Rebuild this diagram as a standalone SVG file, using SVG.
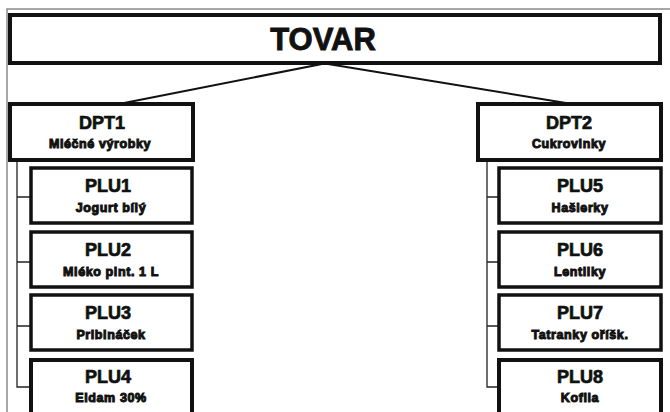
<svg xmlns="http://www.w3.org/2000/svg" width="670" height="412" viewBox="0 0 670 412">
<style>
.frame{fill:none;stroke:#8a8a8a;stroke-width:1.5}
.big{fill:#fff;stroke:#111;stroke-width:4}
.dpt{fill:#fff;stroke:#111;stroke-width:4}
.plu{fill:#fff;stroke:#111;stroke-width:3.5}
.open{fill:none;stroke:#111;stroke-width:4}
.conn{fill:none;stroke:#111;stroke-width:2}
.tree{fill:none;stroke:#222;stroke-width:1.3}
text{font-family:"Liberation Sans",Arial,sans-serif;font-weight:bold;fill:#111;text-anchor:middle;stroke:#111}
.t0{font-size:31px;stroke-width:0.9}
.t1{font-size:18px;stroke-width:0.7}
.t2{font-size:12.5px;stroke-width:1;letter-spacing:0.6px}
</style>
<rect width="670" height="412" fill="#fff"/>
<path class="frame" d="M7,412 V9 H670"/>
<g id="tovar">
<rect class="big" x="10" y="15" width="650" height="48"/>
<text class="t0" x="323" y="50">TOVAR</text>
</g>
<g id="connectors">
<path class="conn" d="M322,64 L124,103"/>
<path class="conn" d="M328,64 L566,103"/>
<path class="tree" d="M17,161 V387 H30 M17,197 H30 M17,262 H30 M17,326 H30"/>
<path class="tree" d="M487,161 V387 H498 M487,197 H498 M487,262 H498 M487,326 H498"/>
</g>
<g id="dpt1">
<rect class="dpt" x="10" y="104" width="183" height="56"/>
<text class="t1" x="102" y="129">DPT1</text>
<text class="t2" x="100" y="148">Mléčné výrobky</text>
</g>
<g id="plu1">
<rect class="plu" x="31" y="168" width="161" height="55"/>
<text class="t1" x="108" y="192">PLU1</text>
<text class="t2" x="111" y="212">Jogurt bílý</text>
</g>
<g id="plu2">
<rect class="plu" x="31" y="232" width="161" height="55"/>
<text class="t1" x="108" y="256">PLU2</text>
<text class="t2" x="111" y="276">Mléko plnt. 1 L</text>
</g>
<g id="plu3">
<rect class="plu" x="31" y="295" width="161" height="55"/>
<text class="t1" x="108" y="319">PLU3</text>
<text class="t2" x="111" y="339">Pribináček</text>
</g>
<g id="plu4">
<path class="open" d="M31,414 V360 H192 V414"/>
<text class="t1" x="108" y="383">PLU4</text>
<text class="t2" x="111" y="402">Eidam 30%</text>
</g>
<g id="dpt2">
<rect class="dpt" x="478" y="104" width="183" height="56"/>
<text class="t1" x="569" y="129">DPT2</text>
<text class="t2" x="569" y="148">Cukrovinky</text>
</g>
<g id="plu5">
<rect class="plu" x="499" y="168" width="162" height="55"/>
<text class="t1" x="580" y="192">PLU5</text>
<text class="t2" x="580" y="212">Hašlerky</text>
</g>
<g id="plu6">
<rect class="plu" x="499" y="232" width="162" height="55"/>
<text class="t1" x="580" y="256">PLU6</text>
<text class="t2" x="580" y="276">Lentilky</text>
</g>
<g id="plu7">
<rect class="plu" x="499" y="295" width="162" height="55"/>
<text class="t1" x="580" y="319">PLU7</text>
<text class="t2" x="580" y="339">Tatranky oříšk.</text>
</g>
<g id="plu8">
<path class="open" d="M499,414 V360 H661 V414"/>
<text class="t1" x="580" y="383">PLU8</text>
<text class="t2" x="580" y="402">Kofila</text>
</g>
</svg>
